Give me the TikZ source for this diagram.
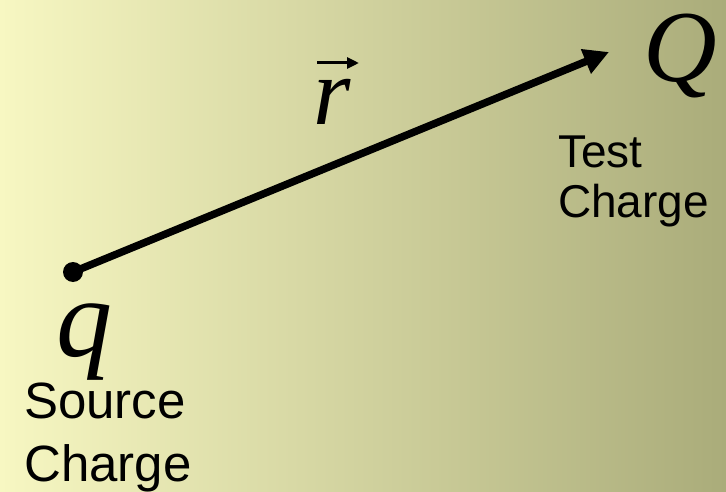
\documentclass[tikz,border=0pt]{standalone}
\usepackage{fontspec}
\setmainfont{Liberation Sans}
\newfontfamily\timesit{Liberation Serif}[UprightFont=* Italic]
\usetikzlibrary{positioning,arrows.meta}
\definecolor{bgLight}{RGB}{247,247,194}
\definecolor{bgDark}{RGB}{170,172,122}

\begin{document}
\begin{tikzpicture}[
    x=1pt, y=-1pt,
    label/.style={align=left, inner sep=0pt},
    charge/.style={font=\fontsize{112}{112}\timesit, inner sep=0pt},
    dot/.style={circle, fill=black, minimum size=20pt, inner sep=0pt},
    vecarrow/.style={line width=3pt, -{Triangle[length=12pt,width=11pt]}}
  ]
    \shade[left color=bgLight, right color=bgDark] (0,0) rectangle (726,492);
    \useasboundingbox (0,0) rectangle (726,492);

    \node[dot] (src) at (73,272) {};
    \coordinate (tip) at (609,52);
    \draw[line width=7.5pt, -{Triangle[length=25pt,width=25pt]}] (src.center) -- (tip);

    \node[charge, anchor=base west] (q) at (56,356) {q};
    \node[charge, font=\fontsize{102}{102}\timesit, anchor=base west] (Q) at (643,82) {Q};
    \node[charge, font=\fontsize{96}{96}\timesit, anchor=base west] (r) at (313,125) {r};
    % vector sign over r
    \draw[vecarrow] ([xshift=4pt,yshift=62pt]r.base west) -- ([xshift=46pt,yshift=62pt]r.base west);

    % labels: base anchor sits on the last line
    \node[label, font=\fontsize{51}{63}\selectfont, anchor=base west] (src label) at (24,481) {Source\\Charge};
    \node[label, font=\fontsize{46}{51}\selectfont, anchor=base west] (test label) at (558,218) {Test\\Charge};
  \end{tikzpicture}
\end{document}
